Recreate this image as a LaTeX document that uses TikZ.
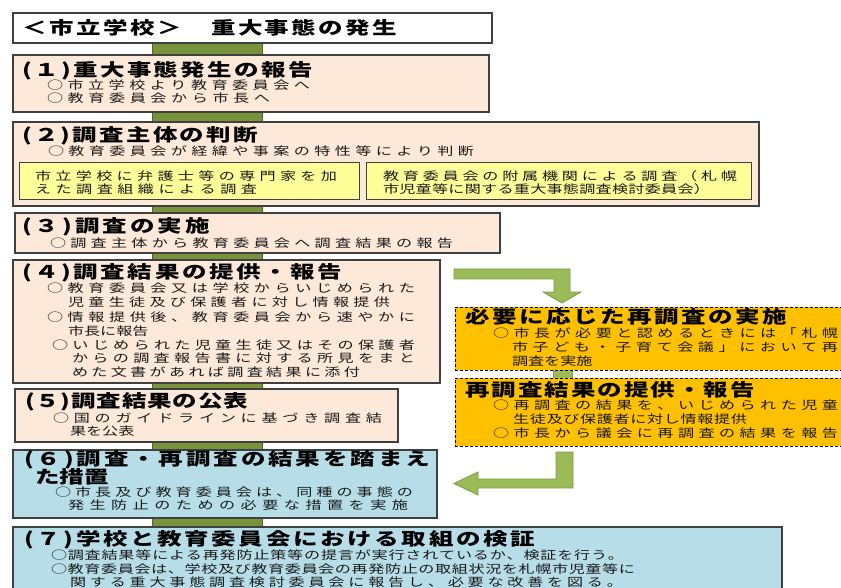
\documentclass[tikz,border=0pt]{standalone}
\usepackage{fontspec}
\newfontfamily\jpfont[FakeStretch=1.4]{Noto Sans CJK JP}
\definecolor{peachc}{HTML}{FDE9D9}
\definecolor{bluec}{HTML}{B7DEE8}
\definecolor{yelc}{HTML}{FFFF99}
\definecolor{orac}{HTML}{FFC000}
\definecolor{gbarc}{HTML}{77933C}
\definecolor{gbard}{HTML}{4F6228}
\definecolor{garrc}{HTML}{9BBB59}
\definecolor{garrd}{HTML}{7F9B46}
\def\spcloop#1{\ifx\relax#1\else#1\hfil\expandafter\spcloop\fi}
\newcommand\jl[2]{\hbox to #1pt{\spcloop#2\relax\unskip}}
\tikzset{
  bx/.style={draw=black!75, line width=1.2pt, inner sep=0pt, outer sep=0pt, anchor=north west},
  whitebox/.style={bx, fill=white},
  peach/.style={bx, fill=peachc},
  bluebox/.style={bx, fill=bluec},
  yelbox/.style={bx, fill=yelc, line width=1pt},
  orabox/.style={bx, fill=orac, draw=black, line width=1pt, dash pattern=on 3pt off 2pt},
  gbar/.style={bx, fill=gbarc, draw=gbard, line width=1pt},
  garrow/.style={fill=garrc, draw=garrd, line width=0.8pt, line join=miter},
  hd/.style={anchor=west, inner sep=0pt, outer sep=0pt, font=\jpfont\bfseries\fontsize{17.5}{20}\selectfont},
  bd/.style={anchor=west, inner sep=0pt, outer sep=0pt, text=black!90, font=\jpfont\fontsize{11.5}{13}\selectfont},
}
\begin{document}
\begin{tikzpicture}[x=1pt,y=-1pt]
\clip (0,0) rectangle (841,588);
\fill[white] (0,0) rectangle (841,588);
% central green bar
\node[gbar, minimum width=110pt, minimum height=484pt] (bar) at (152,43) {};
% boxes
\node[whitebox, minimum width=479pt, minimum height=30pt] (b0) at (13,13) {};
\node[peach, minimum width=476pt, minimum height=57pt] (b1) at (13,55) {};
\node[peach, minimum width=746pt, minimum height=84pt] (b2) at (13,122) {};
\node[yelbox, minimum width=340pt, minimum height=37pt] (y1) at (19,163) {};
\node[yelbox, minimum width=385pt, minimum height=37pt] (y2) at (366,163) {};
\node[peach, minimum width=485pt, minimum height=40pt] (b3) at (15,213) {};
\node[peach, minimum width=427pt, minimum height=123pt] (b4) at (13,260) {};
\node[peach, minimum width=383pt, minimum height=53pt] (b5) at (15,389) {};
\node[bluebox, minimum width=424pt, minimum height=68pt] (b6) at (13,450) {};
\node[bluebox, minimum width=769pt, minimum height=83pt] (b7) at (13,527) {};
% right side
\node[gbar, fill=garrc, draw=garrd, minimum width=19pt, minimum height=10pt] (gs) at (553,369) {};
\node[orabox, minimum width=405pt, minimum height=63pt] (oA) at (455,307) {};
\node[orabox, minimum width=405pt, minimum height=68pt] (oB) at (455,378) {};
% block arrows
\draw[garrow] (454,269) -- (570,269) -- (570,292) -- (581,292) -- (562,303) -- (543,292) -- (554,292) -- (554,279) -- (454,279) -- cycle;
\draw[garrow] (556,452) -- (573,452) -- (573,488) -- (478,488) -- (478,495) -- (454,483.5) -- (478,472) -- (478,479) -- (556,479) -- cycle;
% title
\node[hd] (t0) at (23,28) {\jl{374}{＜市立学校＞　重大事態の発生}};
% (1)
\node[hd] (t1) at (22,71) {\jl{291}{(１)重大事態発生の報告}};
\node[bd] (t1a) at (47,85) {\jl{263}{○市立学校より教育委員会へ}};
\node[bd] (t1b) at (47,98) {\jl{223}{○教育委員会から市長へ}};
% (2)
\node[hd] (t2) at (22,136) {\jl{236}{(２)調査主体の判断}};
\node[bd] (t2a) at (48,151) {\jl{426}{○教育委員会が経緯や事案の特性等により判断}};
\node[bd] (t2b) at (35,176) {\jl{302}{市立学校に弁護士等の専門家を加}};
\node[bd] (t2c) at (35,189) {\jl{222}{えた調査組織による調査}};
\node[bd] (t2d) at (383,176) {\jl{354}{教育委員会の附属機関による調査（札幌}};
\node[bd] (t2e) at (383,189) {\jl{327}{市児童等に関する重大事態調査検討委員会）}};
% (3)
\node[hd] (t3) at (22,227) {\jl{188}{(３)調査の実施}};
\node[bd] (t3a) at (50,243) {\jl{403}{○調査主体から教育委員会へ調査結果の報告}};
% (4)
\node[hd] (t4) at (22,273) {\jl{320}{(４)調査結果の提供・報告}};
\node[bd] (t4a) at (47,288) {\jl{368}{○教育委員会又は学校からいじめられた}};
\node[bd] (t4b) at (68,302) {\jl{322}{児童生徒及び保護者に対し情報提供}};
\node[bd] (t4c) at (47,317) {\jl{368}{○情報提供後、教育委員会から速やかに}};
\node[bd] (t4d) at (68,331) {市長に報告};
\node[bd] (t4e) at (52,345) {\jl{363}{○いじめられた児童生徒又はその保護者}};
\node[bd] (t4f) at (72,358) {\jl{343}{からの調査報告書に対する所見をまと}};
\node[bd] (t4g) at (72,372) {\jl{288}{めた文書があれば調査結果に添付}};
% (5)
\node[hd] (t5) at (25,402) {\jl{223}{(５)調査結果の公表}};
\node[bd] (t5a) at (53,418) {\jl{329}{○国のガイドラインに基づき調査結}};
\node[bd] (t5b) at (70,431) {果を公表};
% (6)
\node[hd] (t6) at (24,460) {\jl{406}{(６)調査・再調査の結果を踏まえ}};
\node[hd] (t6x) at (35,477) {た措置};
\node[bd] (t6a) at (55,492) {\jl{358}{○市長及び教育委員会は、同種の事態の}};
\node[bd] (t6b) at (68,505) {\jl{340}{発生防止のための必要な措置を実施}};
% (7)
\node[hd] (t7) at (24,540) {\jl{511}{(７)学校と教育委員会における取組の検証}};
\node[bd] (t7a) at (51,555) {\jl{573}{○調査結果等による再発防止策等の提言が実行されているか、検証を行う。}};
\node[bd] (t7b) at (51,569) {\jl{584}{○教育委員会は、学校及び教育委員会の再発防止の取組状況を札幌市児童等に}};
\node[bd] (t7c) at (70,582) {\jl{553}{関する重大事態調査検討委員会に報告し、必要な改善を図る。}};
% right boxes text
\node[hd] (tA) at (465,317) {\jl{322}{必要に応じた再調査の実施}};
\node[bd] (tAa) at (493,333) {\jl{345}{○市長が必要と認めるときには「札幌}};
\node[bd] (tAb) at (512,347) {\jl{326}{市子ども・子育て会議」において再}};
\node[bd] (tAc) at (512,361) {調査を実施};
\node[hd] (tB) at (465,390) {\jl{290}{再調査結果の提供・報告}};
\node[bd] (tBa) at (493,405) {\jl{345}{○再調査の結果を、いじめられた児童}};
\node[bd] (tBb) at (513,419) {\jl{234}{生徒及び保護者に対し情報提供}};
\node[bd] (tBc) at (493,433) {\jl{345}{○市長から議会に再調査の結果を報告}};
\end{tikzpicture}
\end{document}
